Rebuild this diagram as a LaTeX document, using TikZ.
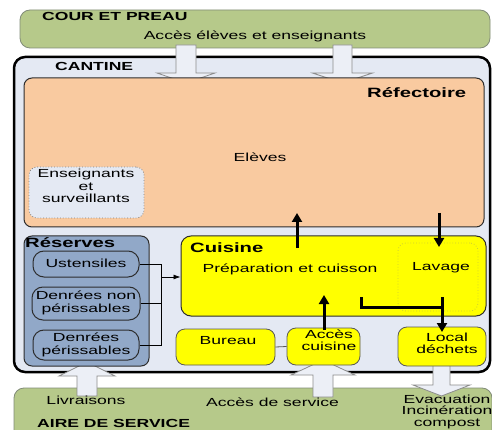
\documentclass[tikz,border=0pt]{standalone}
\usepackage{fontspec}
\setmainfont{Liberation Sans}[FakeStretch=1.5]
\usetikzlibrary{arrows.meta}
\definecolor{grn}{RGB}{182,201,138}
\definecolor{grnedge}{RGB}{130,140,120}
\definecolor{cant}{RGB}{228,233,243}
\definecolor{peach}{RGB}{249,202,160}
\definecolor{resv}{RGB}{145,168,200}
\definecolor{yel}{RGB}{255,255,0}
\definecolor{arrfill}{RGB}{236,239,246}
\definecolor{arrdraw}{RGB}{140,140,140}
\definecolor{edge}{RGB}{45,45,45}
\newcommand\blockarrow[6]{%
  \draw[blockarr] (#1-#5,#2) -- (#1-#5,#3) -- (#1-#6,#3) -- (#1,#4) -- (#1+#6,#3) -- (#1+#5,#3) -- (#1+#5,#2) -- cycle;}
\tikzset{
  box/.style={draw=edge, line width=1pt, rounded corners=8pt, inner sep=0pt},
  zone/.style={fill=grn, draw=grnedge, line width=0.8pt, rounded corners=10pt, inner sep=0pt},
  pill/.style={box, fill=resv, rounded corners=11pt},
  yelbox/.style={box, fill=yel, draw=edge!80, line width=0.8pt, rounded corners=9pt},
  dotbox/.style={draw=gray, dotted, line width=0.8pt, rounded corners=8pt, inner sep=0pt},
  txt/.style={inner sep=0pt, font=\fontsize{11.7}{12.5}\selectfont, align=center},
  hdr/.style={inner sep=0pt, font=\fontsize{11.7}{12.5}\selectfont\bfseries, anchor=west},
  bighdr/.style={inner sep=0pt, font=\fontsize{13.5}{14}\selectfont\bfseries, anchor=west},
  blockarr/.style={fill=arrfill, draw=arrdraw, line width=0.8pt, line join=miter},
  flow/.style={line width=3pt, -{Triangle[width=10pt,length=9pt]}},
  link/.style={draw=black, line width=0.7pt},
}
\begin{document}
\begin{tikzpicture}[x=1pt,y=-1pt]
\clip (0,0) rectangle (492,430);
\fill[white] (0,0) rectangle (492,430);
% outer zones
\node[zone, minimum width=470, minimum height=38] (cour) at (255,29) {};
\node[zone, minimum width=478, minimum height=54] (aire) at (253,415) {};
\node[draw=black, fill=cant, line width=2.5pt, rounded corners=11pt, minimum width=476, minimum height=315, inner sep=0pt] (cantine) at (252,214.5) {};
% block arrows
\blockarrow{186}{45}{73}{83}{10}{29}
\blockarrow{342.5}{45}{73}{83}{9.5}{30}
\blockarrow{87}{396}{376}{362}{10}{28}
\blockarrow{323}{397}{375}{360}{10}{32}
\blockarrow{441.5}{362}{385}{396}{8.5}{28.5}
% refectoire
\node[box, fill=peach, minimum width=460, minimum height=149] (refect) at (254,152.5) {};
\node[dotbox, fill=cant, minimum width=115, minimum height=51] (ens) at (86.5,192.5) {};
% reserves
\node[box, fill=resv, minimum width=125, minimum height=130] (reserves) at (86.5,301) {};
\node[pill, minimum width=106, minimum height=26] (ust) at (86,264) {};
\node[pill, minimum width=108, minimum height=33] (dnp) at (86,303.5) {};
\node[pill, minimum width=106, minimum height=30] (dp) at (86,345) {};
% cuisine
\node[box, fill=yel, rounded corners=10pt, minimum width=305, minimum height=80] (cuisine) at (333.5,276) {};
\node[draw=yel!60!gray, dotted, line width=0.8pt, rounded corners=8pt, inner sep=0pt, minimum width=80, minimum height=68] (lavage) at (438,277) {};
\node[yelbox, minimum width=99, minimum height=36] (bureau) at (225.5,347) {};
\node[yelbox, minimum width=73, minimum height=37] (acces) at (323.5,346.5) {};
\node[yelbox, minimum width=88, minimum height=39] (local) at (442,346.5) {};
% texts
\node[hdr] (tcour) at (42,16) {COUR ET PREAU};
\node[txt] (tacces) at (255,36) {Accès élèves et enseignants};
\node[hdr] (tcant) at (55,66) {CANTINE};
\node[bighdr] (tref) at (367,93) {Réfectoire};
\node[txt] (televes) at (260,157) {Elèves};
\node[txt] (tens) at (86,186) {Enseignants\\et\\surveillants};
\node[bighdr] (tres) at (25,243) {Réserves};
\node[txt] (tust) at (86,263) {Ustensiles};
\node[txt] (tdnp) at (86,303) {Denrées non\\périssables};
\node[txt] (tdp) at (86,345) {Denrées\\périssables};
\node[bighdr] (tcui) at (190,248) {Cuisine};
\node[txt] (tprep) at (290,269) {Préparation et cuisson};
\node[txt] (tlav) at (441,268) {Lavage};
\node[txt] (tbur) at (228,341) {Bureau};
\node[txt] (tacc) at (329,340) {Accès\\cuisine};
\node[txt] (tloc) at (447,343.5) {Local\\déchets};
\node[txt] (tliv) at (86,400) {Livraisons};
\node[txt] (tserv) at (272.5,402) {Accès de service};
\node[txt, font=\fontsize{11.7}{11.5}\selectfont] (tevac) at (447,411.5) {Evacuation\\Incinération\\compost};
\node[hdr] (taire) at (37,423.5) {AIRE DE SERVICE};
% reserve links
\coordinate (j) at (161,277);
\draw[link] (ust.east) -| (j);
\draw[link] (dp.east) -| (j);
\draw[link] (dnp.east) -- (dnp.east -| j);
\draw[link, -{Latex[length=7pt,width=5pt]}] (j) -- (cuisine.west |- j);
\draw[edge!80, line width=0.8pt] (bureau.east) -- (acces.west);
% thick flows
\coordinate (f1a) at (297,248); \coordinate (f1b) at (297,213);
\coordinate (f2a) at (439,213); \coordinate (f2b) at (439,247);
\coordinate (f3a) at (324,330); \coordinate (f3b) at (324,295);
\coordinate (w1) at (361,297); \coordinate (w2) at (361,307); \coordinate (w3) at (442,307);
\coordinate (w4) at (442,297); \coordinate (w5) at (442,332);
\draw[flow] (f1a) -- (f1b);
\draw[flow] (f2a) -- (f2b);
\draw[flow] (f3a) -- (f3b);
\draw[line width=3pt] (w1) -- (w2) -- (w3);
\draw[flow] (w4) -- (w5);
\end{tikzpicture}
\end{document}
